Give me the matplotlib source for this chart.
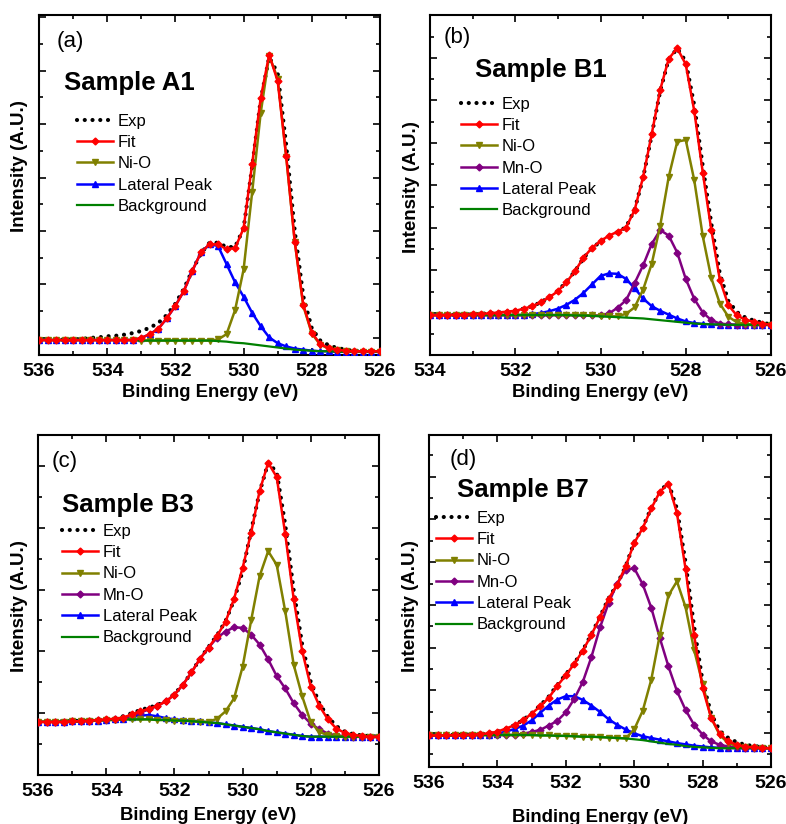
import matplotlib
matplotlib.use("Agg")
import matplotlib.pyplot as plt
from matplotlib.ticker import MultipleLocator

plt.rcParams['font.family'] = ['Liberation Sans', 'DejaVu Sans']

W, H = 786, 824

# binding energy grids (eV)
energy_a = [536.0, 535.75, 535.5, 535.25, 535.0, 534.75, 534.5, 534.25, 534.0, 533.75,
            533.5, 533.25, 533.0, 532.75, 532.5, 532.25, 532.0, 531.75, 531.5, 531.25,
            531.0, 530.75, 530.5, 530.25, 530.0, 529.75, 529.5, 529.25, 529.0, 528.75,
            528.5, 528.25, 528.0, 527.75, 527.5, 527.25, 527.0, 526.75, 526.5, 526.25, 526.0]
energy_b = [534.0, 533.8, 533.6, 533.4, 533.2, 533.0, 532.8, 532.6, 532.4, 532.2,
            532.0, 531.8, 531.6, 531.4, 531.2, 531.0, 530.8, 530.6, 530.4, 530.2,
            530.0, 529.8, 529.6, 529.4, 529.2, 529.0, 528.8, 528.6, 528.4, 528.2,
            528.0, 527.8, 527.6, 527.4, 527.2, 527.0, 526.8, 526.6, 526.4, 526.2, 526.0]

# ---- Sample A1 ----
exp_a = [-0.04, -0.04, -0.04, -0.03, -0.03, -0.02, 0.00, 0.01, 0.03, 0.04, 0.06, 0.09, 0.13, 0.19,
         0.28, 0.43, 0.64, 0.92, 1.27, 1.58, 1.78, 1.78, 1.70, 1.70, 2.05, 3.20, 4.45, 5.25, 4.95,
         3.60, 2.00, 0.78, 0.18, -0.05, -0.14, -0.19, -0.22, -0.24, -0.25, -0.25, -0.26]
fit_a = [-0.04, -0.04, -0.04, -0.04, -0.04, -0.04, -0.04, -0.04, -0.04, -0.04, -0.04, -0.04, 0.00,
         0.07, 0.17, 0.37, 0.60, 0.88, 1.26, 1.60, 1.75, 1.75, 1.66, 1.68, 2.05, 3.25, 4.48, 5.30,
         4.80, 3.40, 1.80, 0.62, 0.10, -0.12, -0.19, -0.22, -0.24, -0.25, -0.25, -0.25, -0.25]
nio_a = [-0.04, -0.04, -0.04, -0.04, -0.04, -0.04, -0.04, -0.04, -0.04, -0.04, -0.04, -0.04, -0.05,
         -0.05, -0.05, -0.05, -0.05, -0.05, -0.05, -0.05, -0.05, -0.03, 0.07, 0.52, 1.28, 2.72, 4.20,
         5.28, 4.85, 3.38, 1.80, 0.60, 0.08, -0.13, -0.20, -0.23, -0.25, -0.26, -0.26, -0.26, -0.26]
lat_a = [-0.04, -0.04, -0.04, -0.04, -0.04, -0.04, -0.04, -0.04, -0.04, -0.04, -0.04, -0.04, 0.00,
         0.07, 0.17, 0.37, 0.60, 0.88, 1.26, 1.60, 1.75, 1.72, 1.38, 1.04, 0.77, 0.47, 0.22, 0.01,
         -0.10, -0.16, -0.20, -0.22, -0.24, -0.25, -0.25, -0.26, -0.26, -0.26, -0.26, -0.26, -0.26]
bg_a = [-0.04, -0.04, -0.04, -0.04, -0.04, -0.04, -0.04, -0.04, -0.04, -0.04, -0.04, -0.04, -0.05,
        -0.05, -0.05, -0.05, -0.05, -0.05, -0.05, -0.05, -0.05, -0.06, -0.07, -0.09, -0.10, -0.12,
        -0.14, -0.16, -0.18, -0.20, -0.22, -0.23, -0.24, -0.25, -0.25, -0.26, -0.26, -0.26, -0.26,
        -0.26, -0.26]

# ---- Sample B1 ----
exp_b = [-0.05, -0.05, -0.05, -0.04, -0.04, -0.03, -0.02, -0.01, 0.01, 0.03, 0.06, 0.10, 0.16, 0.25,
         0.37, 0.52, 0.73, 0.98, 1.29, 1.52, 1.68, 1.81, 1.90, 2.02, 2.43, 3.18, 4.18, 5.22, 5.97,
         6.22, 5.92, 4.88, 3.45, 2.10, 0.92, 0.28, 0.02, -0.11, -0.18, -0.23, -0.27]
fit_b = [-0.05, -0.05, -0.05, -0.04, -0.04, -0.03, -0.02, -0.01, 0.01, 0.03, 0.05, 0.10, 0.16, 0.25,
         0.37, 0.51, 0.72, 0.98, 1.30, 1.53, 1.69, 1.82, 1.91, 2.01, 2.42, 3.20, 4.20, 5.25, 5.98,
         6.23, 5.85, 4.75, 3.30, 1.95, 0.78, 0.18, -0.06, -0.16, -0.21, -0.25, -0.28]
nio_b = [-0.05, -0.05, -0.05, -0.05, -0.05, -0.05, -0.05, -0.05, -0.05, -0.05, -0.05, -0.05, -0.05,
         -0.05, -0.05, -0.05, -0.05, -0.05, -0.05, -0.06, -0.07, -0.08, -0.08, -0.02, 0.13, 0.55,
         1.15, 2.05, 3.20, 4.03, 4.07, 3.12, 1.80, 0.82, 0.22, -0.09, -0.22, -0.26, -0.28, -0.28, -0.28]
mno_b = [-0.05, -0.05, -0.05, -0.05, -0.05, -0.05, -0.05, -0.05, -0.05, -0.05, -0.05, -0.05, -0.05,
         -0.05, -0.05, -0.05, -0.05, -0.05, -0.05, -0.06, -0.06, -0.01, 0.12, 0.30, 0.70, 1.12, 1.62,
         1.95, 1.82, 1.42, 0.80, 0.33, 0.01, -0.17, -0.25, -0.27, -0.28, -0.28, -0.28, -0.28, -0.28]
lat_b = [-0.05, -0.05, -0.05, -0.05, -0.05, -0.05, -0.05, -0.05, -0.05, -0.05, -0.05, -0.05, -0.03,
         0.00, 0.04, 0.10, 0.19, 0.31, 0.47, 0.67, 0.87, 0.93, 0.92, 0.80, 0.58, 0.34, 0.16, 0.05,
         -0.04, -0.13, -0.20, -0.24, -0.26, -0.27, -0.28, -0.28, -0.28, -0.28, -0.28, -0.28, -0.28]
bg_b = [-0.05, -0.05, -0.05, -0.05, -0.05, -0.05, -0.05, -0.05, -0.05, -0.05, -0.05, -0.05, -0.05,
        -0.05, -0.05, -0.05, -0.05, -0.06, -0.06, -0.07, -0.08, -0.09, -0.10, -0.11, -0.12, -0.13,
        -0.15, -0.17, -0.19, -0.21, -0.23, -0.25, -0.26, -0.27, -0.27, -0.28, -0.28, -0.28, -0.28,
        -0.28, -0.28]

# ---- Sample B3 ----
exp_c = [-0.14, -0.14, -0.14, -0.13, -0.13, -0.12, -0.12, -0.11, -0.10, -0.08, -0.05, 0.00, 0.05,
         0.09, 0.13, 0.20, 0.31, 0.46, 0.66, 0.88, 1.07, 1.26, 1.49, 1.83, 2.30, 2.95, 3.58, 4.05,
         3.90, 3.05, 1.98, 1.10, 0.50, 0.16, -0.06, -0.21, -0.30, -0.34, -0.36, -0.37, -0.38]
fit_c = [-0.14, -0.14, -0.14, -0.14, -0.13, -0.13, -0.12, -0.11, -0.10, -0.09, -0.07, -0.02, 0.03,
         0.07, 0.12, 0.19, 0.30, 0.46, 0.66, 0.88, 1.06, 1.25, 1.48, 1.85, 2.35, 2.92, 3.60, 4.05,
         3.82, 2.90, 1.84, 1.00, 0.43, 0.12, -0.10, -0.25, -0.32, -0.35, -0.37, -0.38, -0.38]
nio_c = [-0.14, -0.14, -0.14, -0.14, -0.13, -0.13, -0.12, -0.12, -0.11, -0.11, -0.10, -0.10, -0.10,
         -0.10, -0.11, -0.11, -0.12, -0.12, -0.13, -0.14, -0.14, -0.09, 0.03, 0.24, 0.75, 1.50, 2.22,
         2.62, 2.40, 1.65, 0.78, 0.27, -0.15, -0.30, -0.36, -0.37, -0.38, -0.38, -0.38, -0.38, -0.38]
mno_c = [-0.14, -0.14, -0.14, -0.14, -0.13, -0.13, -0.12, -0.11, -0.11, -0.10, -0.08, -0.04, 0.01,
         0.06, 0.12, 0.19, 0.30, 0.46, 0.66, 0.88, 1.06, 1.22, 1.32, 1.39, 1.38, 1.27, 1.11, 0.87,
         0.60, 0.40, 0.16, -0.03, -0.17, -0.26, -0.33, -0.36, -0.37, -0.38, -0.38, -0.38, -0.38]
lat_c = [-0.14, -0.14, -0.14, -0.14, -0.13, -0.13, -0.12, -0.12, -0.11, -0.10, -0.09, -0.06, -0.04,
         -0.03, -0.05, -0.08, -0.10, -0.11, -0.12, -0.13, -0.15, -0.16, -0.18, -0.20, -0.22, -0.24,
         -0.26, -0.29, -0.31, -0.33, -0.35, -0.37, -0.38, -0.38, -0.38, -0.38, -0.38, -0.38, -0.38,
         -0.38, -0.38]
bg_c = [-0.14, -0.14, -0.14, -0.14, -0.13, -0.13, -0.12, -0.12, -0.11, -0.11, -0.10, -0.10, -0.10,
        -0.10, -0.11, -0.11, -0.12, -0.12, -0.13, -0.14, -0.15, -0.16, -0.18, -0.20, -0.22, -0.24,
        -0.26, -0.29, -0.31, -0.33, -0.35, -0.37, -0.38, -0.38, -0.38, -0.38, -0.38, -0.38, -0.38,
        -0.38, -0.38]

# ---- Sample B7 ----
exp_d = [-0.06, -0.06, -0.05, -0.05, -0.04, -0.04, -0.03, -0.01, 0.03, 0.10, 0.18, 0.30, 0.46, 0.64,
         0.85, 1.12, 1.37, 1.63, 1.94, 2.31, 2.72, 3.15, 3.48, 3.90, 4.47, 4.82, 5.27, 5.66, 5.86,
         5.25, 4.00, 2.50, 1.20, 0.45, 0.05, -0.12, -0.22, -0.28, -0.31, -0.33, -0.34]
fit_d = [-0.06, -0.06, -0.06, -0.05, -0.05, -0.04, -0.03, -0.01, 0.03, 0.10, 0.18, 0.29, 0.45, 0.62,
         0.82, 1.10, 1.35, 1.62, 1.93, 2.30, 2.71, 3.14, 3.47, 3.90, 4.45, 4.80, 5.26, 5.65, 5.84,
         5.15, 3.85, 2.30, 1.05, 0.35, -0.02, -0.20, -0.28, -0.32, -0.34, -0.35, -0.36]
nio_d = [-0.06, -0.06, -0.06, -0.06, -0.05, -0.05, -0.05, -0.05, -0.05, -0.05, -0.05, -0.05, -0.05,
         -0.06, -0.06, -0.07, -0.07, -0.08, -0.09, -0.09, -0.10, -0.11, -0.12, -0.13, 0.08, 0.52, 1.25,
         2.30, 3.22, 3.55, 2.95, 1.95, 1.15, 0.35, -0.05, -0.24, -0.31, -0.34, -0.35, -0.36, -0.36]
mno_d = [-0.06, -0.06, -0.06, -0.06, -0.05, -0.05, -0.05, -0.05, -0.05, -0.05, -0.05, -0.02, 0.02,
         0.07, 0.17, 0.28, 0.48, 0.80, 1.20, 1.78, 2.47, 3.04, 3.50, 3.82, 3.86, 3.48, 2.93, 2.22,
         1.56, 0.98, 0.54, 0.19, -0.04, -0.20, -0.28, -0.32, -0.34, -0.35, -0.35, -0.36, -0.36]
lat_d = [-0.06, -0.06, -0.06, -0.06, -0.05, -0.05, -0.05, -0.04, -0.02, 0.03, 0.09, 0.17, 0.29, 0.47,
         0.64, 0.78, 0.86, 0.86, 0.77, 0.64, 0.49, 0.32, 0.19, 0.08, -0.01, -0.08, -0.12, -0.16, -0.20,
         -0.24, -0.27, -0.30, -0.32, -0.34, -0.35, -0.35, -0.36, -0.36, -0.36, -0.36, -0.36]
bg_d = [-0.06, -0.06, -0.06, -0.06, -0.05, -0.05, -0.05, -0.05, -0.05, -0.05, -0.05, -0.05, -0.05,
        -0.06, -0.06, -0.07, -0.07, -0.08, -0.09, -0.09, -0.10, -0.11, -0.12, -0.13, -0.15, -0.17,
        -0.20, -0.23, -0.26, -0.28, -0.31, -0.33, -0.34, -0.35, -0.36, -0.36, -0.36, -0.36, -0.36,
        -0.36, -0.36]

fig = plt.figure(figsize=(W / 100, H / 100), dpi=100)


def px(x, y):
    return x / W, 1 - y / H


def panel(rect, energy, exp, fit, nio, mno, lat, bg, xlim, ylim, leg_xy):
    l, t, r, b = rect
    ax = fig.add_axes([l / W, 1 - b / H, (r - l) / W, (b - t) / H])
    ax.plot(energy, exp, color='black', lw=3.0, linestyle=(0, (0.01, 1.85)),
            dash_capstyle='round', label='Exp', zorder=2)
    ax.plot(energy, fit, color='#ff0000', lw=1.8, marker='D', ms=3.5, label='Fit', zorder=7)
    ax.plot(energy, nio, color='#808000', lw=1.8, marker='v', ms=4.5, label='Ni-O', zorder=5)
    if mno is not None:
        ax.plot(energy, mno, color='#800080', lw=1.8, marker='D', ms=3.5, label='Mn-O', zorder=4)
    ax.plot(energy, lat, color='#0000ff', lw=1.8, marker='^', ms=4.5, label='Lateral Peak', zorder=3)
    ax.plot(energy, bg, color='#008000', lw=1.6, label='Background', zorder=6)
    ax.set_xlim(*xlim)
    ax.set_ylim(*ylim)
    ax.xaxis.set_major_locator(MultipleLocator(2))
    ax.xaxis.set_minor_locator(MultipleLocator(1))
    ax.yaxis.set_major_locator(MultipleLocator(1))
    ax.yaxis.set_minor_locator(MultipleLocator(0.5))
    ax.tick_params(which='both', direction='in', top=True, right=True, width=1.2)
    ax.tick_params(which='major', length=5)
    ax.tick_params(which='minor', length=3)
    ax.tick_params(axis='x', labelsize=14, pad=6)
    ax.tick_params(axis='y', labelleft=False)
    for lab in ax.get_xticklabels():
        lab.set_fontweight('bold')
    for s in ax.spines.values():
        s.set_linewidth(1.5)
    ax.legend(loc='upper left', bbox_to_anchor=leg_xy, frameon=False, fontsize=12,
              borderpad=0, borderaxespad=0, handlelength=2.15, handletextpad=0.3,
              labelspacing=0.38)
    return ax


panel((39, 15, 380, 355), energy_a, exp_a, fit_a, nio_a, None, lat_a, bg_a,
      (536, 526), (-0.32, 6.04), (0.111, 0.710))
panel((430, 15, 771, 355), energy_b, exp_b, fit_b, nio_b, mno_b, lat_b, bg_b,
      (534, 526), (-0.99, 7.01), (0.091, 0.760))
panel((38, 435, 379, 775), energy_a, exp_c, fit_c, nio_c, mno_c, lat_c, bg_c,
      (536, 526), (-1.0, 4.5), (0.070, 0.739))
panel((429, 435, 771, 767), energy_a, exp_d, fit_d, nio_d, mno_d, lat_d, bg_d,
      (536, 526), (-0.8, 6.98), (0.020, 0.772))

# panel letters and sample names
for lbl, x, y in [('(a)', 57, 42), ('(b)', 444, 38), ('(c)', 52, 462), ('(d)', 450, 460)]:
    fig.text(*px(x, y), lbl, fontsize=16, ha='left', va='center')
for lbl, x, y in [('Sample A1', 64, 83), ('Sample B1', 475, 70),
                  ('Sample B3', 62, 505), ('Sample B7', 457, 490)]:
    fig.text(*px(x, y), lbl, fontsize=18.5, fontweight='bold', ha='left', va='center')

# axis titles
for x, y in [(210, 393), (600, 393), (208, 815), (600, 817)]:
    fig.text(*px(x, y), 'Binding Energy (eV)', fontsize=13.3, fontweight='bold',
             ha='center', va='center')
for x, y in [(20, 166), (411, 187), (20, 606), (410, 606)]:
    fig.text(*px(x, y), 'Intensity (A.U.)', fontsize=13.5, fontweight='bold',
             ha='center', va='center', rotation=90)

fig.savefig('out.png', dpi=100)
